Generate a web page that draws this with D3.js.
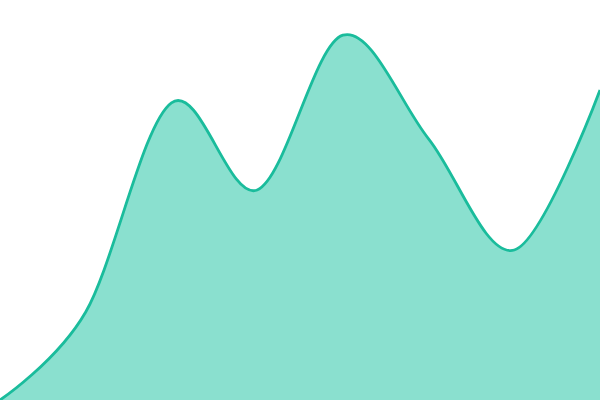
<!DOCTYPE html>
<html><head><meta charset="utf-8">
<script src="https://cdn.jsdelivr.net/npm/d3@7"></script>
<style>html,body{margin:0;padding:0;background:#fff;overflow:hidden}</style>
</head><body>
<svg id="chart" width="600" height="400"></svg>
<script>
const categories = [0, 1, 2, 3, 4, 5, 6, 7];
const values = [0, 22, 74.3, 52.5, 91.2, 65.3, 37.5, 77.5];

const W = 600, H = 400;
const svg = d3.select("#chart");
const x = d3.scaleLinear().domain([0, categories.length - 1]).range([0, W]);
const y = d3.scaleLinear().domain([0, 100]).range([H, 0]);
const data = categories.map((c, i) => ({c, v: values[i]}));

const curve = d3.curveCardinal;
const area = d3.area().x(d => x(d.c)).y0(H).y1(d => y(d.v)).curve(curve);
const line = d3.line().x(d => x(d.c)).y(d => y(d.v)).curve(curve);

svg.append("path").datum(data).attr("d", area).attr("fill", "#8ae0cf");
svg.append("path").datum(data).attr("d", line).attr("fill", "none")
  .attr("stroke", "#1abc9c").attr("stroke-width", 2.8);
</script>
</body></html>
